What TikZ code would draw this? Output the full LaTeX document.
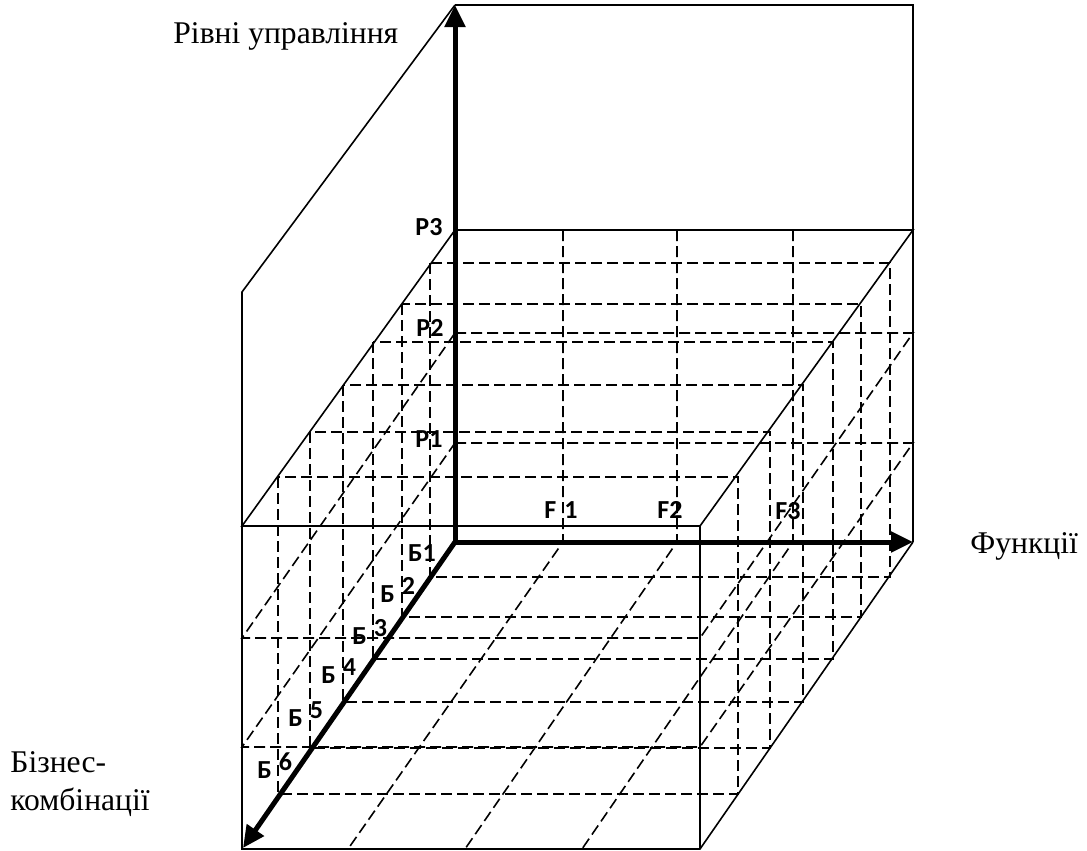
\documentclass[tikz,border=0pt]{standalone}
\usepackage{fontspec}
\setmainfont{Liberation Serif}
\newfontfamily\lblfont{Carlito}
\usetikzlibrary{arrows.meta}

\tikzset{
  edge/.style={line width=0.8pt},
  grid/.style={line width=0.8pt, dash pattern=on 5.5pt off 2.5pt},
  axis/.style={line width=2.5pt, line join=miter},
  tip/.tip={Triangle[length=11pt,width=10pt]},
  lbl/.style={font=\lblfont\bfseries\fontsize{13}{15}\selectfont, inner sep=0pt},
  word/.style={font=\fontsize{15.8}{19}\selectfont, inner sep=0pt}
}

\begin{document}
\begin{tikzpicture}[x=0.5pt, y=-0.5pt]
        \useasboundingbox (0,0) rectangle (1087,851);

        % Draw the frame of the box
        \draw[edge] (455,5) -- (913,5) -- (913,542);
        \draw[edge] (455,5) -- (242,292) -- (242,849) -- (700,849) -- (913,542);
        \draw[edge] (455,230) -- (913,230) -- (700,526) -- (242,526) -- cycle;
        \draw[edge] (700,526) -- (700,849);

        % Draw the levels P2 and P1
        \draw[grid] (455,333) -- (913,333) -- (700,638) -- (242,638) -- cycle;
        \draw[grid] (455,443) -- (913,443) -- (700,747) -- (242,747) -- cycle;

        % Draw the functions F1, F2, F3
        \draw[grid] (563,230) -- (563,542) -- (348,849);
        \draw[grid] (677,230) -- (677,542) -- (465,849);
        \draw[grid] (793,230) -- (793,542) -- (582,849);

        % Draw the business combinations B1 ... B6
        \draw[grid] (430,263) rectangle (890,577);
        \draw[grid] (402,304) rectangle (861,617);
        \draw[grid] (373,342) rectangle (833,659);
        \draw[grid] (343,385) rectangle (803,702);
        \draw[grid] (310,432) rectangle (770,748);
        \draw[grid] (278,477) rectangle (738,794);

        % Draw the axes
        \draw[axis, tip-tip] (455,5) -- (455,542) -- (913,542);
        \draw[axis, -tip] (455,542) -- (243,848);

        % Label the levels and the functions
        \node[lbl] (p3) at (429,227) {Р3};
        \node[lbl] (p2) at (430,328) {Р2};
        \node[lbl] (p1) at (429,439) {Р1};
        \node[lbl] (f1) at (561,510) {F\hspace{4pt}1};
        \node[lbl] (f2) at (670,510) {F2};
        \node[lbl] (f3) at (788,511) {F3};

        % Label the business combinations
        \node[lbl] (b1) at (422,553) {Б1};
        \node[lbl, anchor=base west] (b2) at (380,602) {Б\hspace{3.5pt}\raisebox{4pt}{2}};
        \node[lbl, anchor=base west] (b3) at (352,644) {Б\hspace{3.5pt}\raisebox{4pt}{3}};
        \node[lbl, anchor=base west] (b4) at (321,683) {Б\hspace{3.5pt}\raisebox{4pt}{4}};
        \node[lbl, anchor=base west] (b5) at (288,726) {Б\hspace{3.5pt}\raisebox{4pt}{5}};
        \node[lbl, anchor=base west] (b6) at (257,778) {Б\hspace{3.5pt}\raisebox{4pt}{6}};

        % Name the axes
        \node[word, anchor=base west] (levels) at (173,43) {Рівні управління};
        \node[word, anchor=base west] (funcs) at (970,553) {Функції};
        \node[word, anchor=north west, align=left] (biz) at (10,751) {Бізнес-\\комбінації};
\end{tikzpicture}
\end{document}
